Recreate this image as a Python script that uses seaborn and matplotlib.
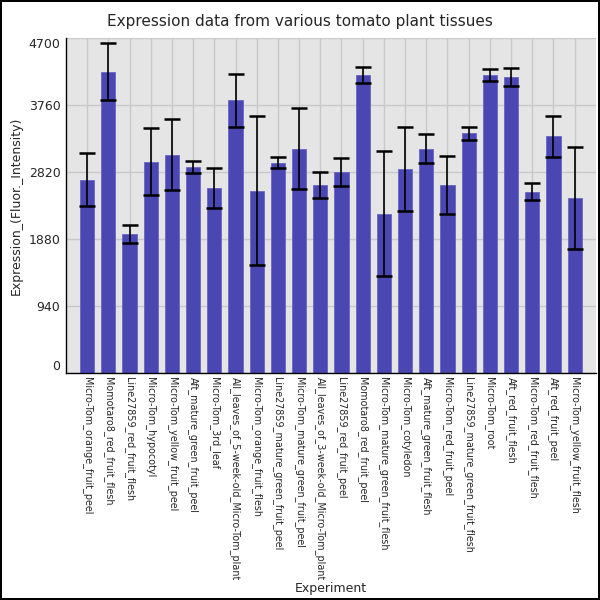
import numpy as np
import pandas as pd
import matplotlib
matplotlib.use("Agg")
import matplotlib.pyplot as plt
import seaborn as sns

# 数据
experiments = [
    "Micro-Tom_orange_fruit_peel", "Momotaro8_red_fruit_flesh", "Line27859_red_fruit_flesh",
    "Micro-Tom_hypocotyl", "Micro-Tom_yellow_fruit_peel", "Aft_mature_green_fruit_peel",
    "Micro-Tom_3rd_leaf", "All_leaves_of_5-week-old_Micro-Tom_plant", "Micro-Tom_orange_fruit_flesh",
    "Line27859_mature_green_fruit_peel", "Micro-Tom_mature_green_fruit_peel",
    "All_leaves_of_3-week-old_Micro-Tom_plant", "Line27859_red_fruit_peel", "Momotaro8_red_fruit_peel",
    "Micro-Tom_mature_green_fruit_flesh", "Micro-Tom_cotyledon", "Aft_mature_green_fruit_flesh",
    "Micro-Tom_red_fruit_peel", "Line27859_mature_green_fruit_flesh", "Micro-Tom_root",
    "Aft_red_fruit_flesh", "Micro-Tom_red_fruit_flesh", "Aft_red_fruit_peel", "Micro-Tom_yellow_fruit_flesh",
]
expression = [2712, 4227, 1952, 2961, 3063, 2895, 2599, 3823, 2557, 2951, 3148, 2641,
              2820, 4175, 2233, 2862, 3148, 2641, 3359, 4175, 4147, 2543, 3317, 2458]
error = [370, 405, 130, 470, 500, 85, 280, 370, 1045, 80, 565, 180,
         190, 110, 875, 590, 205, 405, 85, 85, 125, 122, 293, 715]
yticks = [0, 940, 1880, 2820, 3760, 4700]

df = pd.DataFrame({"Experiment": experiments, "Expression": expression, "Error": error})

sns.set_style("whitegrid")
plt.rcParams["font.family"] = ["DejaVu Sans"]

fig = plt.figure(figsize=(6, 6), dpi=100)
fig.patch.set_edgecolor("black")
fig.patch.set_linewidth(1.5)
ax = fig.add_axes([0.11, 0.378, 0.883, 0.559])
ax.set_facecolor("#e5e5e5")

sns.barplot(data=df, x="Experiment", y="Expression", color="#4a46b2", saturation=1,
            width=0.67, errorbar=None, edgecolor="#6a66c4", linewidth=0.6, ax=ax)
ax.errorbar(np.arange(len(df)), df["Expression"], yerr=df["Error"], fmt="none",
            ecolor="black", elinewidth=1.2, capsize=6, capthick=1.8, zorder=3)

ax.set_xlim(-1, len(df))
ax.set_ylim(0, 4700)
ax.set_yticks(yticks)
ax.grid(True, color="#c8c8c8", linewidth=1)
ax.set_axisbelow(True)
for side in ["top", "right"]:
    ax.spines[side].set_visible(False)
for side in ["left", "bottom"]:
    ax.spines[side].set_visible(True)
    ax.spines[side].set_color("black")
    ax.spines[side].set_linewidth(1)

ax.tick_params(axis="x", labelrotation=270, labelsize=6.9, length=0, pad=3)
ax.tick_params(axis="y", labelsize=9, length=0, pad=4)
# 两端的刻度标签向内收
ylabels = ax.get_yticklabels()
ylabels[0].set_verticalalignment("bottom")
ylabels[-1].set_verticalalignment("top")

ax.set_xlabel("Experiment", fontsize=9, labelpad=1)
ax.set_ylabel("Expression_(Fluor._Intensity)", fontsize=9)
fig.suptitle("Expression data from various tomato plant tissues", fontsize=11, y=0.977)

plt.savefig("out.png", dpi=100)
